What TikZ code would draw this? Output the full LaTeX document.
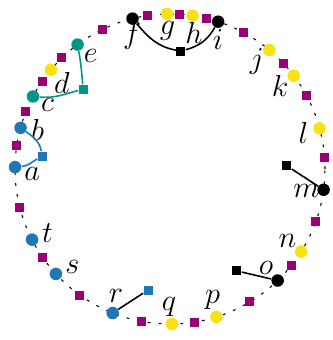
\documentclass[tikz,border=0pt]{standalone}
\usepackage{tikz}
\usetikzlibrary{positioning}

\definecolor{cblue}{RGB}{31,119,180}
\definecolor{cteal}{RGB}{0,150,136}
\definecolor{cyel}{RGB}{250,225,20}
\definecolor{cpurp}{RGB}{153,0,119}

\begin{document}
\begin{tikzpicture}[
    vtx/.style={circle, inner sep=0pt, minimum size=0.25cm},
    sq/.style={rectangle, inner sep=0pt, minimum size=0.18cm},
    lbl/.style={inner sep=0pt, font=\LARGE},
    ring/.style={line width=0.6pt, dash pattern=on 1.6pt off 4.6pt},
    link/.style={line width=0.9pt},
  ]
    \useasboundingbox (-3.4,-3.42) rectangle (3.26,3.38);
    \draw[ring] (0,0) circle (3.1);
    % vertices on the ring with their letters
    \foreach \ang/\nm/\col/\lang in {
        179.3/a/cblue/182, 164.6/b/cblue/163.5, 152.1/c/cteal/152.5,
        140.2/d/cyel/141.6, 126.6/e/cteal/125, 104/f/black/106,
        91.1/g/cyel/91, 81.6/h/cyel/80, 71.9/i/black/69.7,
        50.1/j/cyel/51, 37/k/cyel/37, 15.2/l/cyel/15,
        -7.7/m/black/-9, -32.2/n/cyel/-31.6, -46/o/black/-45.9,
        -72.6/p/cyel/-72, -89.3/q/cyel/-90.4, -111.7/r/cblue/-113,
        -137.4/s/cblue/-135, -152.9/t/cblue/-152.5}{
      \node[vtx, fill=\col] (\nm) at (\ang:3.1) {};
      \node[lbl] (l\nm) at (\lang:2.76) {$\nm$};
    }
    % squares between the vertices
    \foreach \ang [count=\k] in {171.4, 158.3, 145.5, 134.2, 115.9, 98.4,
        86.3, 76.5, 61.6, 42.9, 28.4, 4.4, -19.8, -38.5, -59, -81,
        -100.5, -125.5, -145.4, -165.7}
      \node[sq, fill=cpurp] (p\k) at (\ang:3.1) {};
    % inner squares
    \node[sq, fill=black] (sfi) at (84.7:2.37) {};
    \node[sq, fill=cteal] (sce) at (137.4:2.36) {};
    \node[sq, fill=cblue] (sab) at (174.2:2.57) {};
    \node[sq, fill=black] (sm) at (1.5:2.34) {};
    \node[sq, fill=black] (so) at (-56.7:2.44) {};
    \node[sq, fill=cblue] (sr) at (-100.3:2.46) {};
    \draw[link] (f) to[out=-50, in=170] (sfi);
    \draw[link] (i) to[out=-120, in=15] (sfi);
    \draw[link, cteal] (c) to[out=-5, in=195] (sce);
    \draw[link, cteal] (e) to[out=-80, in=95] (sce);
    \draw[link, cblue] (b) to[out=-35, in=100] (sab);
    \draw[link, cblue] (a) to[out=5, in=210] (sab);
    \draw[link] (m) -- (sm);
    \draw[link] (o) -- (so);
    \draw[link] (r) -- (sr);
  \end{tikzpicture}
\end{document}
